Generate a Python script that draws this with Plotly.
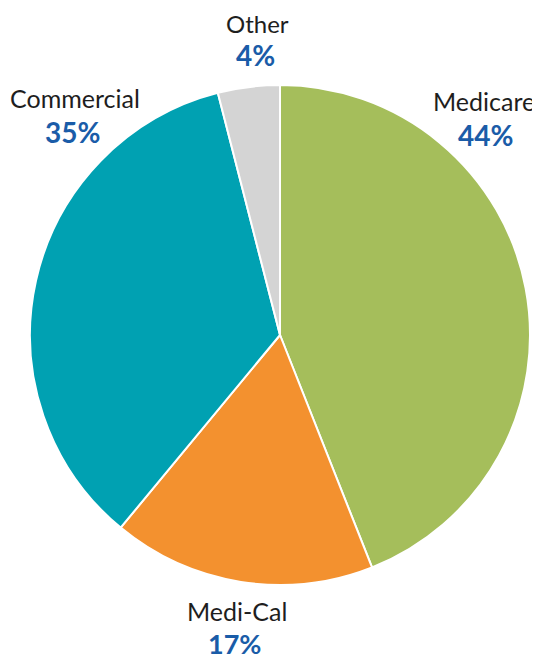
import plotly.graph_objects as go

categories = ["Medicare", "Medi-Cal", "Commercial", "Other"]
values = [44, 17, 35, 4]
colors = ["#A5BE5B", "#F3912F", "#00A1B2", "#D4D4D4"]
pct_labels = ["44%", "17%", "35%", "4%"]

W, H = 540, 661
OFF = 8  # page body margin offset
# label anchor positions (pixel, in the final picture) for name and percent
label_pos = {
    "Medicare": ((484, 101), (485, 135)),
    "Medi-Cal": ((237, 611), (234, 643)),
    "Commercial": ((75, 98), (72, 132)),
    "Other": ((257, 23), (255, 55)),
}
name_size = {"Medicare": 25, "Medi-Cal": 25, "Commercial": 25, "Other": 24}
pct_size = {"Medicare": 28, "Medi-Cal": 27, "Commercial": 28, "Other": 28}

def px_x(x):
    return (x - OFF) / W

def px_y(y):
    return 1 - (y - OFF) / H

fig = go.Figure(go.Pie(
    labels=categories,
    values=values,
    marker=dict(colors=colors, line=dict(color="white", width=2)),
    sort=False,
    direction="clockwise",
    rotation=0,
    textinfo="none",
    hoverinfo="label+percent",
    domain=dict(x=[px_x(30), px_x(530)], y=[px_y(585), px_y(85)]),
    showlegend=False,
))

annotations = []
for cat, pct in zip(categories, pct_labels):
    (nx, ny), (px, py) = label_pos[cat]
    annotations.append(dict(
        x=px_x(nx), y=px_y(ny), xref="paper", yref="paper",
        text=cat, showarrow=False, xanchor="center", yanchor="middle",
        font=dict(family="Lato, Open Sans, sans-serif", size=name_size[cat], color="#1E1E1E"),
    ))
    annotations.append(dict(
        x=px_x(px), y=px_y(py), xref="paper", yref="paper",
        text=f"<b>{pct}</b>", showarrow=False, xanchor="center", yanchor="middle",
        font=dict(family="Lato, Open Sans, sans-serif", size=pct_size[cat], color="#1A5CA8"),
    ))

fig.update_layout(
    width=W, height=H,
    margin=dict(l=0, r=0, t=0, b=0),
    paper_bgcolor="white",
    plot_bgcolor="white",
    annotations=annotations,
)

fig.write_html("out.html")
